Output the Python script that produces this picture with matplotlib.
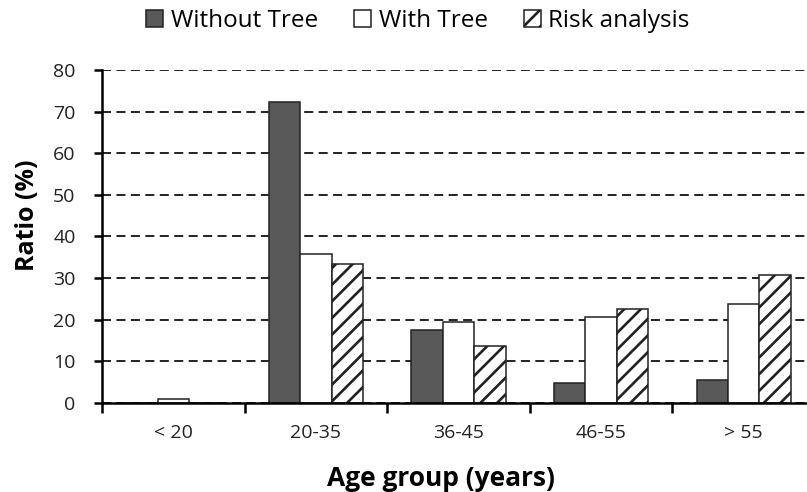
import matplotlib
matplotlib.use("Agg")
import matplotlib.pyplot as plt
import numpy as np

categories = ["< 20", "20-35", "36-45", "46-55", "> 55"]
without_tree = [0, 72.2, 17.5, 4.8, 5.5]
with_tree = [1.0, 35.8, 19.4, 20.6, 23.8]
risk_analysis = [0, 33.3, 13.6, 22.7, 30.8]
series_names = ["Without Tree", "With Tree", "Risk analysis"]

plt.rcParams['font.family'] = ['Open Sans', 'DejaVu Sans']
plt.rcParams['hatch.linewidth'] = 1.9
plt.rcParams['hatch.color'] = 'black'

fig = plt.figure(figsize=(8.07, 4.92), dpi=100)
ax = fig.add_axes([102/807, 1-403/492, 1-102/807+0.01, (403-70)/492])

x = np.arange(len(categories))
w = 0.22
ec = '#222222'
lw = 1.1
b1 = ax.bar(x - w, without_tree, w, color='#595959', edgecolor=ec, linewidth=lw, label=series_names[0])
b2 = ax.bar(x, with_tree, w, color='white', edgecolor=ec, linewidth=lw, label=series_names[1])
b3 = ax.bar(x + w, risk_analysis, w, color='white', edgecolor=ec, linewidth=lw, hatch='//', label=series_names[2])

ax.set_ylim(0, 80)
ax.set_yticks(range(0, 81, 10))
ax.set_xlim(-0.5, -0.5 + 705/142)
ax.set_xticks(np.arange(-0.5, 5.0, 1.0))
ax.set_xticklabels([])
ax.set_xticks(x, minor=True)
ax.set_xticklabels(categories, minor=True, fontsize=14, color='#222222')
ax.tick_params(axis='x', which='minor', length=0, pad=15)
ax.tick_params(axis='x', which='major', length=7, width=1.8, direction='out', color='black')
ax.tick_params(axis='y', length=6, width=1.8, direction='out', labelsize=14, labelcolor='#222222', pad=13)

ax.yaxis.grid(True, color='#111111', linestyle=(0, (5, 3)), linewidth=1.3)
ax.set_axisbelow(True)

for s in ['top', 'right']:
    ax.spines[s].set_visible(False)
ax.spines['left'].set_linewidth(1.8)
ax.spines['bottom'].set_linewidth(1.8)

ax.set_ylabel("Ratio (%)", fontsize=18, fontweight='bold', color='black', va='center')
ax.yaxis.set_label_coords(-0.105, (403-215)/333)
ax.set_xlabel("Age group (years)", fontsize=19, fontweight='bold', color='black', va='center')
ax.xaxis.set_label_coords((437-102)/705, -(478-403)/333)

fig.legend(handles=[b1, b2, b3], labels=series_names, loc='center',
           bbox_to_anchor=(418/807, 1-21/492), ncol=3, frameon=False, fontsize=17.5,
           handlelength=0.7, handleheight=0.7, handletextpad=0.3, columnspacing=1.5)

fig.savefig("out.png", dpi=100)
